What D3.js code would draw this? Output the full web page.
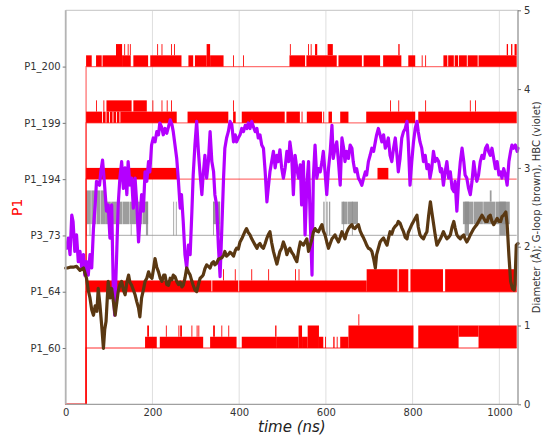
<!DOCTYPE html>
<html><head><meta charset="utf-8">
<script src="https://cdn.jsdelivr.net/npm/d3@7"></script>
<style>
html,body{margin:0;padding:0;background:#fff;}
svg{display:block;font-family:"DejaVu Sans",sans-serif;}
</style></head><body>
<svg id="chart" width="544" height="441"></svg>
<script>
// ---------------- data ----------------
const categories = ["P1_60","P1_64","P3_73","P1_194","P1_199","P1_200"];
const xTicks = [0,200,400,600,800,1000];
const rightTicks = [0,1,2,3,4,5];
const xMax = 1043;
const eventStart = 47;
const eventEnd = 1040;
const levelUnit = 0.2;

// event segments: [t0, t1, lowLevel, highLevel]
const evP1_200 = [[47,60,0,1],[70,83,0,1],[85,116,0,1],[116,130,0,2],[130,150,0,1],[135,137,1,2],[143,145,1,2],[148,150,1,2],[156,190,0,1],[195,267,0,1],[211,213,1,2],[221,223,1,2],[243,245,1,2],[250,252,1,2],[283,294,0,1],[298,325,0,1],[325,333,0,2],[333,364,0,1],[386,388,0,1],[409,411,0,1],[516,552,0,1],[517,519,1,2],[555,625,0,1],[559,561,1,2],[565,567,1,2],[575,580,1,2],[604,616,1,2],[629,683,0,1],[687,725,0,1],[732,774,0,1],[767,770,1,2],[790,806,0,1],[821,823,0,1],[829,831,0,1],[871,880,0,1],[882,895,0,1],[897,905,0,1],[907,925,0,1],[927,950,0,1],[952,1040,0,1],[1017,1020,1,2],[1027,1030,1,2],[1035,1040,1,2]];
const evP1_199 = [[47,84,0,1],[86,92,0,1],[94,100,0,1],[102,108,0,1],[110,116,0,1],[118,124,0,1],[126,256,0,1],[70,72,1,2],[87,89,1,2],[94,152,1,2],[156,187,1,2],[200,202,1,2],[221,223,1,2],[233,235,1,2],[243,245,1,2],[281,375,0,1],[386,392,0,1],[386,388,1,2],[406,505,0,1],[509,540,0,1],[544,546,0,1],[556,591,0,1],[594,596,0,1],[606,614,0,1],[633,652,0,1],[693,806,0,1],[748,750,1,2],[767,769,1,2],[813,1040,0,1],[829,831,1,2],[932,934,1,2],[944,946,1,2]];
const evP1_194 = [[47,260,0,1],[719,744,0,1]];
const evP3_73 = [[47,49,0,4],[49,58,1,4],[59,70,1,4],[71,80,1,4],[81,91,1,4],[55,57,0,1],[91,104,1,3],[105,118,1,3],[119,131,1,3],[132,146,1,3],[147,162,1,3],[163,176,1,3],[177,190,1,3],[150,152,0,1],[185,190,0,3],[248,250,0,3],[254,256,0,3],[340,356,1,3],[340,342,0,3],[352,356,0,3],[594,597,0,3],[601,604,0,3],[607,610,0,3],[636,650,1,3],[651,674,1,3],[640,642,0,3],[660,662,0,3],[916,940,1,3],[941,962,1,3],[963,990,1,3],[991,1024,1,3],[920,930,0,3],[978,982,3,4],[1000,1015,0,3]];
const evP1_64 = [[47,336,0,1],[338,398,0,1],[400,694,0,1],[363,365,1,2],[390,392,1,2],[428,430,1,2],[467,469,1,2],[529,531,1,2],[537,539,1,2],[694,765,0,2],[768,790,0,2],[795,870,0,2],[875,1040,0,2]];
const evP1_60 = [[183,210,0,1],[188,192,1,2],[217,317,0,1],[231,233,1,2],[260,262,1,2],[264,268,1,2],[290,292,1,2],[302,304,1,2],[306,308,1,2],[333,394,0,1],[340,344,1,2],[359,361,1,2],[375,377,1,2],[406,487,0,1],[483,486,1,2],[487,537,0,1],[537,545,0,2],[545,558,0,1],[558,584,0,2],[584,594,0,1],[598,600,0,1],[617,620,0,1],[625,627,0,1],[633,652,0,1],[652,802,0,2],[675,677,2,3],[813,906,0,2],[906,952,1,2],[952,1040,0,2]];

// HBC (violet) diameter [t, value]
const hbc = [[2,1.98],[6,2.11],[10,1.90],[14,2.40],[17,2.32],[21,1.94],[25,2.15],[29,1.81],[33,1.94],[37,1.73],[41,1.90],[44,1.64],[48,1.81],[52,1.64],[56,1.90],[60,1.73],[64,2.23],[68,2.53],[71,2.83],[78,2.78],[81,2.95],[85,3.10],[89,2.83],[94,2.45],[98,2.53],[102,2.11],[106,2.53],[110,1.40],[113,1.13],[118,1.98],[121,2.53],[125,2.87],[129,3.08],[133,2.74],[137,3.00],[141,2.66],[144,3.08],[148,2.78],[152,2.87],[156,2.49],[160,2.87],[164,2.53],[168,2.06],[171,2.32],[175,2.66],[179,2.45],[183,2.95],[187,2.83],[191,3.08],[194,2.95],[198,3.29],[202,3.38],[206,3.33],[210,3.46],[214,3.42],[217,3.57],[221,3.52],[225,3.42],[229,3.50],[233,3.44],[237,3.52],[241,3.61],[245,3.55],[248,3.46],[252,3.29],[256,3.12],[260,2.83],[264,2.49],[267,2.66],[271,2.32],[275,1.90],[279,1.73],[283,2.02],[287,1.90],[291,2.45],[294,2.91],[298,3.29],[302,3.59],[306,3.21],[310,2.91],[314,2.66],[317,2.91],[321,3.16],[325,2.87],[329,3.08],[333,3.46],[337,3.08],[341,2.95],[344,2.66],[348,2.53],[352,2.02],[356,1.62],[360,2.23],[364,2.87],[367,3.25],[371,3.38],[375,3.46],[379,3.59],[383,3.55],[387,3.33],[391,3.42],[394,3.33],[398,3.38],[402,3.42],[406,3.50],[410,3.46],[414,3.54],[418,3.50],[421,3.57],[425,3.50],[429,3.59],[433,3.52],[437,3.46],[441,3.50],[444,3.38],[448,3.42],[452,3.29],[456,3.25],[460,2.95],[464,2.57],[467,2.74],[471,2.95],[475,3.08],[479,3.21],[483,3.00],[487,3.16],[490,3.08],[494,3.23],[498,3.00],[502,2.87],[506,3.00],[510,3.21],[514,3.08],[517,3.33],[521,3.16],[525,2.66],[529,3.16],[533,2.99],[537,2.87],[541,3.04],[544,2.53],[548,3.08],[552,2.15],[556,2.78],[560,3.08],[564,2.32],[568,1.64],[571,2.87],[575,3.29],[579,2.87],[583,2.99],[587,2.95],[591,3.08],[594,3.21],[598,2.95],[602,2.66],[606,2.99],[610,3.21],[614,3.54],[617,3.12],[621,3.25],[625,3.33],[629,3.08],[633,2.78],[637,3.38],[641,3.25],[644,3.08],[648,3.21],[652,3.12],[656,3.29],[660,3.25],[663,3.08],[667,2.95],[671,2.99],[675,2.87],[679,2.83],[683,2.78],[687,2.87],[691,2.95],[694,2.91],[698,3.08],[702,3.16],[706,3.25],[710,3.21],[714,3.33],[717,3.42],[721,3.50],[725,3.42],[729,3.33],[733,3.42],[737,3.25],[740,3.29],[744,3.38],[748,3.16],[752,3.08],[756,3.25],[760,3.38],[764,3.16],[767,2.95],[771,3.12],[775,3.38],[779,3.46],[783,3.50],[787,3.59],[790,3.33],[794,2.78],[798,3.08],[802,3.33],[806,3.50],[810,3.59],[813,3.46],[817,3.33],[821,3.25],[825,3.08],[829,3.16],[833,2.99],[837,3.04],[840,2.87],[844,2.99],[848,3.21],[852,3.08],[856,3.12],[860,3.08],[864,2.95],[867,2.99],[871,2.78],[875,2.95],[879,3.08],[883,2.87],[887,2.95],[891,2.74],[895,2.70],[898,2.83],[902,2.45],[906,2.83],[910,3.08],[914,3.25],[918,3.08],[921,2.91],[925,2.87],[929,2.74],[933,2.66],[937,2.83],[941,3.08],[945,2.91],[948,2.83],[952,2.91],[956,3.08],[960,3.16],[964,3.12],[968,3.25],[972,3.29],[975,3.21],[979,3.16],[983,3.25],[987,3.12],[991,2.99],[995,3.08],[999,2.91],[1003,2.95],[1006,2.87],[1010,2.99],[1014,2.91],[1018,2.78],[1022,3.08],[1026,3.21],[1029,3.29],[1033,3.25],[1037,3.29],[1041,3.21],[1043,3.25]];

// G-loop (brown) diameter [t, value]
const gloop = [[0,1.73],[4,1.73],[10,1.74],[17,1.74],[25,1.75],[33,1.70],[41,1.73],[48,1.60],[52,1.45],[56,1.35],[60,1.20],[64,1.13],[68,1.25],[72,1.18],[75,1.47],[79,1.26],[83,1.00],[87,0.71],[90,0.95],[93,1.05],[98,1.56],[102,1.35],[106,1.47],[110,1.30],[114,1.13],[118,1.30],[121,1.43],[125,1.52],[129,1.56],[133,1.45],[137,1.39],[141,1.55],[145,1.64],[148,1.55],[152,1.51],[156,1.45],[160,1.39],[164,1.30],[168,1.22],[171,1.11],[175,1.35],[179,1.45],[183,1.56],[187,1.60],[191,1.68],[195,1.62],[199,1.60],[202,1.70],[206,1.85],[210,1.74],[214,1.68],[218,1.60],[222,1.56],[226,1.64],[229,1.64],[233,1.52],[237,1.51],[241,1.60],[245,1.58],[248,1.64],[252,1.62],[256,1.56],[260,1.52],[264,1.55],[268,1.49],[271,1.51],[275,1.60],[279,1.73],[283,1.68],[287,1.64],[291,1.56],[294,1.51],[298,1.45],[302,1.43],[306,1.52],[310,1.60],[314,1.62],[317,1.64],[321,1.72],[325,1.77],[329,1.75],[333,1.73],[337,1.79],[341,1.81],[344,1.77],[348,1.79],[352,1.84],[356,1.85],[360,1.86],[364,1.89],[367,1.94],[371,1.88],[375,1.90],[379,1.93],[383,1.91],[387,1.88],[391,1.95],[394,1.98],[398,1.97],[402,2.06],[406,2.10],[410,2.15],[414,2.20],[417,2.23],[421,2.18],[425,2.15],[429,2.10],[433,2.06],[437,2.02],[441,1.98],[444,2.02],[448,2.04],[452,2.00],[456,1.98],[460,2.04],[464,2.11],[467,2.15],[471,2.19],[475,2.05],[479,1.94],[483,1.86],[487,1.78],[490,1.85],[494,1.94],[498,1.98],[502,2.06],[506,2.00],[510,1.90],[514,1.96],[517,1.98],[521,1.93],[525,1.90],[529,1.85],[533,1.81],[537,1.95],[541,2.06],[544,2.04],[548,2.02],[552,2.06],[556,2.10],[560,1.94],[564,2.02],[568,2.10],[571,2.18],[575,2.23],[579,2.20],[583,2.19],[587,2.24],[591,2.28],[594,2.20],[598,2.15],[602,2.06],[606,1.98],[610,2.04],[614,2.10],[617,2.12],[621,2.15],[625,2.10],[629,2.06],[633,2.12],[637,2.19],[641,2.14],[644,2.10],[648,2.18],[652,2.23],[656,2.26],[660,2.28],[663,2.24],[667,2.23],[671,2.26],[675,2.28],[679,2.20],[683,2.15],[687,2.11],[691,2.06],[694,2.02],[698,1.98],[702,1.97],[706,1.94],[710,1.85],[714,1.73],[717,1.90],[721,1.98],[725,2.06],[729,2.09],[733,2.11],[737,2.06],[741,2.02],[744,2.10],[748,2.19],[752,2.16],[756,2.23],[760,2.26],[764,2.28],[767,2.32],[771,2.30],[775,2.24],[779,2.19],[783,2.12],[787,2.10],[790,2.18],[794,2.23],[798,2.28],[802,2.32],[806,2.36],[810,2.40],[813,2.25],[817,2.15],[821,2.12],[825,2.10],[829,2.15],[833,2.19],[837,2.40],[841,2.57],[844,2.45],[848,2.30],[852,2.15],[856,2.02],[860,2.06],[864,2.10],[868,2.15],[871,2.19],[875,2.14],[879,2.10],[883,2.12],[887,2.15],[891,2.25],[895,2.32],[898,2.24],[902,2.15],[906,2.12],[910,2.10],[914,2.13],[918,2.15],[921,2.10],[925,2.06],[929,2.10],[933,2.15],[937,2.19],[941,2.23],[945,2.26],[948,2.28],[952,2.32],[956,2.36],[960,2.40],[964,2.36],[968,2.32],[972,2.32],[975,2.38],[979,2.40],[983,2.32],[987,2.28],[991,2.32],[995,2.36],[999,2.32],[1003,2.32],[1006,2.38],[1010,2.40],[1015,2.44],[1018,2.28],[1022,1.89],[1026,1.56],[1030,1.47],[1034,1.45],[1036,1.52],[1039,2.02],[1043,2.04]];

const eventRows = [
  {cat:"P1_60", data:evP1_60, color:"#ff0000"},
  {cat:"P1_64", data:evP1_64, color:"#ff0000"},
  {cat:"P3_73", data:evP3_73, color:"#8c8c8c"},
  {cat:"P1_194", data:evP1_194, color:"#ff0000"},
  {cat:"P1_199", data:evP1_199, color:"#ff0000"},
  {cat:"P1_200", data:evP1_200, color:"#ff0000"}
];

// ---------------- drawing ----------------
const svg = d3.select("#chart");
const L = 65.7, R = 518, T = 10.3, B = 404.3;

const x = d3.scaleLinear().domain([0, xMax]).range([L, R]);
const yR = d3.scaleLinear().domain([0, 5]).range([B, T]);
const yL = d3.scaleLinear().domain([0, categories.length + 1]).range([B, T]);
const catPos = c => categories.indexOf(c) + 1;

// grid
svg.append("g").selectAll("line").data(xTicks).join("line")
  .attr("x1", d => x(d)).attr("x2", d => x(d))
  .attr("y1", T).attr("y2", B)
  .attr("stroke", "#dedede").attr("stroke-width", 1);

// events
const evG = svg.append("g");
eventRows.forEach(row => {
  const c = catPos(row.cat);
  const gray = row.cat === "P3_73";
  const base = gray ? [[eventStart, c], [eventEnd, c]]
    : [[0, 0], [eventStart, 0], [eventStart, c], [eventEnd, c]];
  evG.append("path")
    .attr("d", d3.line().x(d => x(d[0])).y(d => yL(d[1]))(base))
    .attr("fill", "none").attr("stroke", row.color)
    .attr("stroke-opacity", gray ? 0.6 : 0.55)
    .attr("stroke-width", 1.3);
  evG.append("g").selectAll("rect").data(row.data).join("rect")
    .attr("x", d => x(d[0]))
    .attr("width", d => Math.max(0.6, x(d[1]) - x(d[0])))
    .attr("y", d => yL(c + d[3] * levelUnit))
    .attr("height", d => yL(c + d[2] * levelUnit) - yL(c + d[3] * levelUnit))
    .attr("fill", row.color)
    .attr("fill-opacity", gray ? 0.85 : 1);
});

// lines
const lineGen = d3.line().x(d => x(d[0])).y(d => yR(d[1]));
svg.append("path").attr("d", lineGen(hbc))
  .attr("fill", "none").attr("stroke", "#b400ff").attr("stroke-width", 3.2)
  .attr("stroke-linejoin", "round").attr("stroke-linecap", "round");
svg.append("path").attr("d", lineGen(gloop))
  .attr("fill", "none").attr("stroke", "#5a3812").attr("stroke-width", 3.2)
  .attr("stroke-linejoin", "round").attr("stroke-linecap", "round");

// frame
svg.append("line").attr("x1", L).attr("x2", R).attr("y1", T).attr("y2", T).attr("stroke", "#cfcfcf").attr("stroke-width", 1.2);
svg.append("line").attr("x1", L).attr("x2", R).attr("y1", B).attr("y2", B).attr("stroke", "#a0a0a0").attr("stroke-width", 1.2);
svg.append("line").attr("x1", L).attr("x2", L).attr("y1", T).attr("y2", B).attr("stroke", "#b4b4b4").attr("stroke-width", 1.8);
svg.append("line").attr("x1", R).attr("x2", R).attr("y1", T).attr("y2", B).attr("stroke", "#8a8a8a").attr("stroke-width", 1.2);

// axes
const styleAxis = g => {
  g.select(".domain").remove();
  g.selectAll(".tick line").attr("stroke", "#777");
  g.selectAll(".tick text").attr("fill", "#333").attr("font-size", 10)
    .attr("font-family", "DejaVu Sans, sans-serif");
};
const intFmt = d3.format("d");
svg.append("g").attr("transform", `translate(0,${B})`)
  .call(d3.axisBottom(x).tickValues(xTicks).tickFormat(intFmt).tickSize(0).tickPadding(5))
  .call(styleAxis);
svg.append("g").attr("transform", `translate(${L},0)`)
  .call(d3.axisLeft(yL).tickValues(categories.map((c, i) => i + 1))
    .tickFormat(d => categories[d - 1]).tickSize(3).tickPadding(2))
  .call(styleAxis);
svg.append("g").attr("transform", `translate(${R},0)`)
  .call(d3.axisRight(yR).tickValues(rightTicks).tickFormat(intFmt).tickSize(3).tickPadding(3))
  .call(styleAxis);

// titles
svg.append("text").attr("x", (L + R) / 2).attr("y", 432)
  .attr("text-anchor", "middle").attr("font-size", 15).attr("font-style", "italic")
  .attr("fill", "#222").text("time (ns)");
svg.append("text").attr("transform", `translate(22,${(T + B) / 2}) rotate(-90)`)
  .attr("text-anchor", "middle").attr("font-size", 14).attr("fill", "#ff0000").text("P1");
svg.append("text").attr("transform", `translate(540,${(T + B) / 2}) rotate(-90)`)
  .attr("text-anchor", "middle").attr("font-size", 10).attr("fill", "#333")
  .text("Diameter (Å); G-loop (brown), HBC (violet)");
</script>
</body></html>
